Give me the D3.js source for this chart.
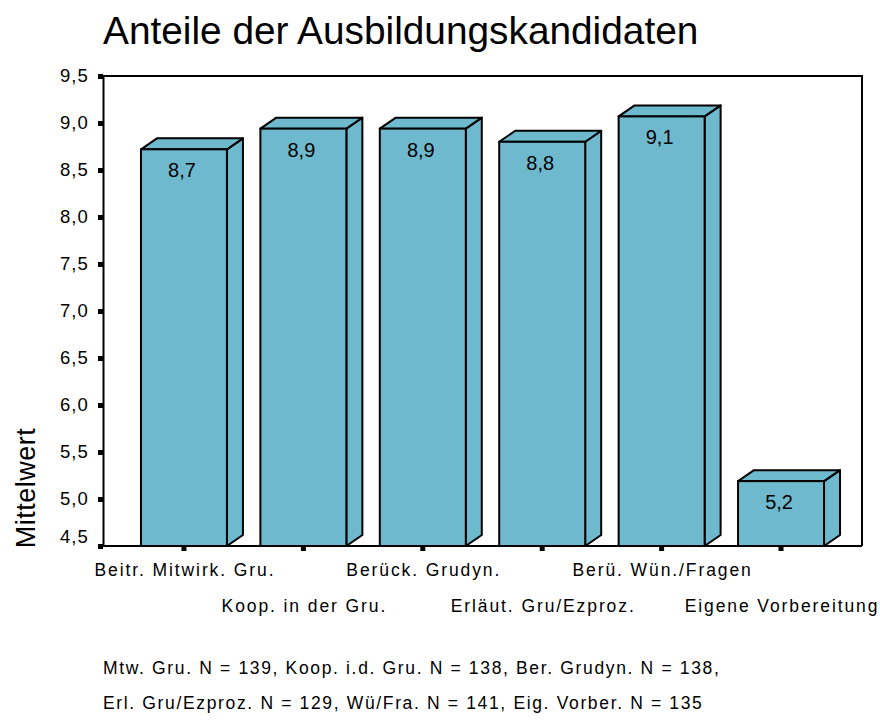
<!DOCTYPE html>
<html>
<head>
<meta charset="utf-8">
<script src="https://cdn.jsdelivr.net/npm/d3@7"></script>
<style>
  body { margin: 0; background: #fff; }
  text { font-family: "Liberation Sans", Arial, sans-serif; fill: #000; }
</style>
</head>
<body>
<svg id="chart" width="880" height="724"></svg>
<script>
// Kategorien und Mittelwerte
const categories = ["Beitr. Mitwirk. Gru.", "Koop. in der Gru.", "Berück. Grudyn.",
                    "Erläut. Gru/Ezproz.", "Berü. Wün./Fragen", "Eigene Vorbereitung"];
const means = [8.72, 8.94, 8.94, 8.80, 9.07, 5.19];
const yTicks = [4.5, 5.0, 5.5, 6.0, 6.5, 7.0, 7.5, 8.0, 8.5, 9.0, 9.5];
const footnotes = ["Mtw. Gru. N = 139, Koop. i.d. Gru. N = 138, Ber. Grudyn. N = 138,",
                   "Erl. Gru/Ezproz. N = 129, Wü/Fra. N = 141, Eig. Vorber. N = 135"];

let svg = d3.select("#chart");
let plotLeft = 103, plotRight = 862, plotTop = 76, plotBottom = 546;
let depthX = 16, depthY = -11;
let barColor = "#6fb9cf";

// deutsches Zahlenformat
let de = d3.formatLocale({decimal: ",", thousands: ".", grouping: [3], currency: ["", " €"]});
let fmt = de.format(".1f");

let y = d3.scaleLinear().domain([4.5, 9.5]).range([plotBottom, plotTop]);
let x = d3.scaleBand().domain(categories).range([plotLeft, plotRight])
    .paddingInner(0.28).paddingOuter(0.318);

// Titel
svg.append("text")
    .attr("x", plotLeft).attr("y", 43.5)
    .attr("font-size", "38.8px")
    .text("Anteile der Ausbildungskandidaten");

// Rahmen oben und rechts
svg.append("path")
    .attr("d", `M${plotLeft},${plotTop}H${plotRight}V${plotBottom}`)
    .attr("fill", "none").attr("stroke", "#000").attr("stroke-width", 2);

// Balken (3D)
let bars = svg.selectAll("g.bar")
    .data(categories.map((c, i) => ({cat: c, value: means[i]})))
    .enter().append("g").attr("class", "bar");

bars.each(function(d) {
    let g = d3.select(this);
    let x0 = x(d.cat), w = x.bandwidth(), yv = y(d.value);
    g.append("polygon")
        .attr("points", [[x0 + w, yv], [x0 + w + depthX, yv + depthY],
                         [x0 + w + depthX, plotBottom + depthY], [x0 + w, plotBottom]].join(" "))
        .attr("fill", barColor).attr("stroke", "#000").attr("stroke-width", 2)
        .attr("stroke-linejoin", "round");
    g.append("polygon")
        .attr("points", [[x0, yv], [x0 + depthX, yv + depthY],
                         [x0 + w + depthX, yv + depthY], [x0 + w, yv]].join(" "))
        .attr("fill", barColor).attr("stroke", "#000").attr("stroke-width", 2)
        .attr("stroke-linejoin", "round");
    g.append("rect")
        .attr("x", x0).attr("y", yv)
        .attr("width", w).attr("height", plotBottom - yv)
        .attr("fill", barColor).attr("stroke", "#000").attr("stroke-width", 2);
    g.append("text")
        .attr("x", x0 + w / 2 - 2).attr("y", yv + 28)
        .attr("text-anchor", "middle")
        .attr("font-size", "20px")
        .text(fmt(d.value));
});

// y-Achse
let yAxis = svg.append("g")
    .attr("transform", `translate(${plotLeft},0)`)
    .call(d3.axisLeft(y).tickValues(yTicks).tickFormat(fmt)
        .tickSizeInner(5).tickSizeOuter(0).tickPadding(9));
yAxis.select(".domain").attr("stroke-width", 2);
yAxis.selectAll(".tick line").attr("stroke-width", 5);
yAxis.selectAll(".tick text")
    .attr("font-size", "18.5px").attr("font-family", null).attr("fill", "#000")
    .attr("letter-spacing", "1.1px")
    .attr("dy", d => d === 4.5 ? "-0.18em" : "0.32em");

// x-Achse
let xAxis = svg.append("g")
    .attr("transform", `translate(0,${plotBottom})`)
    .call(d3.axisBottom(x).tickSizeInner(5).tickSizeOuter(0).tickFormat(""));
xAxis.select(".domain").attr("stroke-width", 2)
    .attr("d", `M${plotLeft},0H${plotRight}`);
xAxis.selectAll(".tick line").attr("stroke-width", 5);

// Kategorienbeschriftung, versetzt in zwei Zeilen
svg.selectAll("text.cat")
    .data(categories)
    .enter().append("text")
    .attr("class", "cat")
    .attr("x", d => x(d) + x.bandwidth() / 2 + 1)
    .attr("y", (d, i) => i % 2 === 0 ? 576 : 612)
    .attr("text-anchor", "middle")
    .attr("font-size", "17.5px")
    .attr("letter-spacing", "1.9px")
    .text(d => d);

// y-Achsentitel
svg.append("text")
    .attr("transform", "translate(35,488) rotate(-90)")
    .attr("text-anchor", "middle")
    .attr("font-size", "27px")
    .attr("letter-spacing", "0.5px")
    .text("Mittelwert");

// Fußnote
svg.selectAll("text.note")
    .data(footnotes)
    .enter().append("text")
    .attr("class", "note")
    .attr("x", plotLeft)
    .attr("y", (d, i) => 674 + i * 35)
    .attr("font-size", "17.5px")
    .attr("letter-spacing", "1.65px")
    .text(d => d);
</script>
</body>
</html>
